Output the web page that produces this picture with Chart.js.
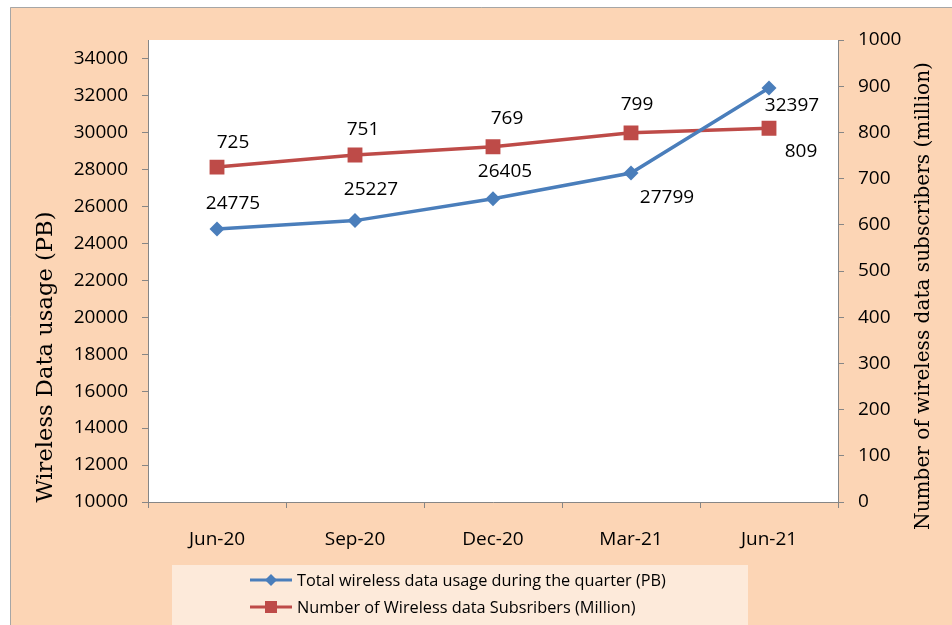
<!DOCTYPE html>
<html>
<head>
<meta charset="utf-8">
<script src="https://cdn.jsdelivr.net/npm/chart.js@4.4.1/dist/chart.umd.min.js"></script>
<style>
  html, body { margin: 0; padding: 0; background: #ffffff; }
  #wrap { width: 952px; height: 625px; }
</style>
</head>
<body>
<div id="wrap"><canvas id="usageChart" width="952" height="625"></canvas></div>
<script>
// quarters on the x axis
const quarters = ['Jun-20', 'Sep-20', 'Dec-20', 'Mar-21', 'Jun-21'];
// total wireless data usage (PB), left axis
const dataUsage = [24775, 25227, 26405, 27799, 32397];
// wireless data subscribers (million), right axis
const subscribers = [725, 751, 769, 799, 809];
// tick labels
const leftTicks = [10000, 12000, 14000, 16000, 18000, 20000, 22000, 24000, 26000, 28000, 30000, 32000, 34000];
const rightTicks = [0, 100, 200, 300, 400, 500, 600, 700, 800, 900, 1000];

const usageLabel = 'Total wireless data usage during the quarter (PB)';
const subsLabel = 'Number of Wireless data Subsribers (Million)';
const leftTitle = 'Wireless Data usage (PB)';
const rightTitle = 'Number of wireless data subscribers (million)';

// where each value label sits relative to its point (dx, dy)
const usageLabelOffsets = [[16, -25], [16, -31], [12, -27], [36, 25], [23, 17]];
const subsLabelOffsets = [[16, -24], [8, -25], [14, -28], [6, -28], [32, 23]];

const blue = '#4A7EBB';
const red = '#BE4B48';
const peach = '#FCD5B5';
const axisGrey = '#868686';
const sansFont = "'Open Sans', sans-serif";
const serifFont = "'DejaVu Serif', serif";

const backgroundPlugin = {
    id: 'background',
    beforeDraw(chart) {
        const ctx = chart.ctx;
        const area = chart.chartArea;
        ctx.save();
        ctx.fillStyle = '#ffffff';
        ctx.fillRect(0, 0, chart.width, chart.height);
        ctx.fillStyle = peach;
        ctx.fillRect(10, 7, chart.width - 10, chart.height - 7);
        ctx.strokeStyle = '#A6A6A6';
        ctx.lineWidth = 1;
        ctx.beginPath();
        ctx.moveTo(10.5, chart.height);
        ctx.lineTo(10.5, 7.5);
        ctx.lineTo(chart.width, 7.5);
        ctx.stroke();
        ctx.fillStyle = '#ffffff';
        ctx.fillRect(area.left, area.top, area.right - area.left, area.bottom - area.top);
        ctx.restore();
    }
};

// draw text rotated, sized so it spans the given length
function drawVerticalTitle(ctx, text, x, y, length) {
    ctx.font = '20px ' + serifFont;
    const size = 20 * length / ctx.measureText(text).width;
    ctx.font = size.toFixed(2) + 'px ' + serifFont;
    ctx.save();
    ctx.translate(x, y);
    ctx.rotate(-Math.PI / 2);
    ctx.fillText(text, 0, 0);
    ctx.restore();
}

const labelsPlugin = {
    id: 'extras',
    afterDraw(chart) {
        const ctx = chart.ctx;
        ctx.save();
        ctx.fillStyle = '#000000';
        ctx.textAlign = 'center';
        ctx.textBaseline = 'middle';
        ctx.font = '19px ' + sansFont;
        const sets = [[0, dataUsage, usageLabelOffsets], [1, subscribers, subsLabelOffsets]];
        sets.forEach(([idx, values, offsets]) => {
            chart.getDatasetMeta(idx).data.forEach((pt, i) => {
                ctx.fillText(String(values[i]), pt.x + offsets[i][0], pt.y + offsets[i][1]);
            });
        });

        // axis titles
        drawVerticalTitle(ctx, leftTitle, 46, 357, 291);
        drawVerticalTitle(ctx, rightTitle, 924, 296, 468);

        // legend box
        ctx.fillStyle = '#FDEADA';
        ctx.fillRect(172, 565, 576, 60);
        const rows = [[usageLabel, blue, 'diamond', 580], [subsLabel, red, 'square', 607]];
        ctx.font = '16.3px ' + sansFont;
        ctx.textAlign = 'left';
        rows.forEach(([text, color, shape, y]) => {
            ctx.strokeStyle = color;
            ctx.lineWidth = 3;
            ctx.beginPath();
            ctx.moveTo(250, y);
            ctx.lineTo(292, y);
            ctx.stroke();
            ctx.fillStyle = color;
            if (shape === 'diamond') {
                ctx.beginPath();
                ctx.moveTo(271, y - 6);
                ctx.lineTo(277, y);
                ctx.lineTo(271, y + 6);
                ctx.lineTo(265, y);
                ctx.closePath();
                ctx.fill();
            } else {
                ctx.fillRect(265, y - 6, 12, 12);
            }
            ctx.fillStyle = '#000000';
            ctx.fillText(text, 297, y + 1);
        });
        ctx.restore();
    }
};

const tickFont = { family: sansFont, size: 19 };

new Chart(document.getElementById('usageChart'), {
    type: 'line',
    data: {
        labels: quarters,
        datasets: [{
            label: usageLabel,
            data: dataUsage,
            yAxisID: 'y',
            borderColor: blue,
            backgroundColor: blue,
            borderWidth: 3.5,
            pointStyle: 'rectRot',
            pointRadius: 7.5,
            pointHoverRadius: 7.5,
            pointBorderWidth: 0,
            fill: false,
            tension: 0
        }, {
            label: subsLabel,
            data: subscribers,
            yAxisID: 'y1',
            borderColor: red,
            backgroundColor: red,
            borderWidth: 3.5,
            pointStyle: 'rect',
            pointRadius: 10.5,
            pointHoverRadius: 10.5,
            pointBorderWidth: 0,
            fill: false,
            tension: 0
        }]
    },
    options: {
        responsive: false,
        animation: false,
        layout: { padding: { left: 10, right: 0, top: 40, bottom: 63 } },
        plugins: {
            legend: { display: false },
            tooltip: { enabled: false }
        },
        scales: {
            x: {
                offset: true,
                grid: { drawOnChartArea: false, drawTicks: true, tickLength: 6, color: axisGrey, offset: true },
                border: { color: axisGrey, width: 1 },
                ticks: { color: '#000000', font: tickFont, padding: 20, maxRotation: 0 },
                afterFit(scale) { scale.height = 60; }
            },
            y: {
                position: 'left',
                min: 10000,
                max: 35000,
                grid: { drawOnChartArea: false, drawTicks: true, tickLength: 6, color: axisGrey },
                border: { color: axisGrey, width: 1 },
                ticks: { color: '#000000', font: tickFont, padding: 14, callback: v => String(v) },
                afterBuildTicks(scale) { scale.ticks = leftTicks.map(v => ({ value: v })); },
                afterFit(scale) { scale.width = 138; }
            },
            y1: {
                position: 'right',
                min: 0,
                max: 1000,
                grid: { drawOnChartArea: false, drawTicks: true, tickLength: 6, color: axisGrey },
                border: { color: axisGrey, width: 1 },
                ticks: { color: '#000000', font: tickFont, padding: 14, callback: v => String(v) },
                afterBuildTicks(scale) { scale.ticks = rightTicks.map(v => ({ value: v })); },
                afterFit(scale) { scale.width = 114; }
            }
        }
    },
    plugins: [backgroundPlugin, labelsPlugin]
});
</script>
</body>
</html>
